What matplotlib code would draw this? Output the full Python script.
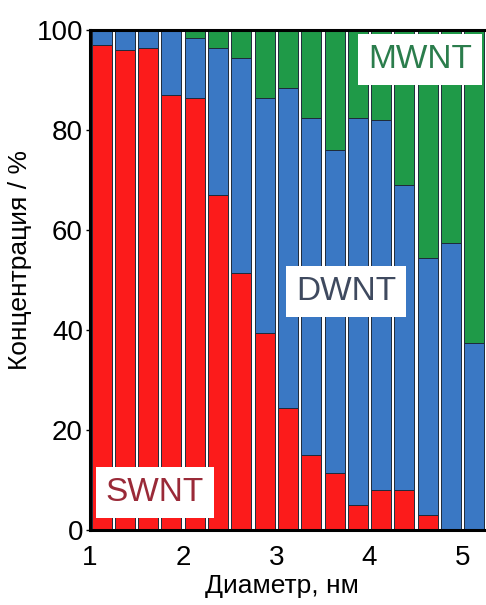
import matplotlib
matplotlib.use('Agg')
import matplotlib.pyplot as plt

plt.rcParams['font.family'] = ['Liberation Sans', 'DejaVu Sans']

# bar centres, nm (bins of 0.25 nm)
diameters = [1.125, 1.375, 1.625, 1.875, 2.125, 2.375, 2.625, 2.875, 3.125,
             3.375, 3.625, 3.875, 4.125, 4.375, 4.625, 4.875, 5.125]
swnt = [97, 96, 96.5, 87, 86.5, 67, 51.5, 39.5, 24.5, 15, 11.5, 5, 8, 8, 3, 0, 0]
dwnt = [3, 4, 3.5, 13, 12, 29.5, 43, 47, 64, 67.5, 64.5, 77.5, 74, 61, 51.5, 57.5, 37.5]
mwnt = [0, 0, 0, 0, 1.5, 3.5, 5.5, 13.5, 11.5, 17.5, 24, 17.5, 18, 31, 45.5, 42.5, 62.5]

red = '#fc1b1b'
blue = '#3a78c4'
green = '#1f9a48'
edge = '#1e2a3a'

fig = plt.figure(figsize=(4.86, 6.05), dpi=100)
ax = fig.add_axes([0.185, 0.124, 0.815, 0.826])

w = 0.215
bottom2 = [s + d for s, d in zip(swnt, dwnt)]
ax.bar(diameters, swnt, width=w, color=red, edgecolor=edge, linewidth=0.7)
ax.bar(diameters, dwnt, width=w, bottom=swnt, color=blue, edgecolor=edge, linewidth=0.7)
ax.bar(diameters, mwnt, width=w, bottom=bottom2, color=green, edgecolor=edge, linewidth=0.7)

ax.set_xlim(1, 5.25)
ax.set_ylim(0, 100)
ax.set_xticks([1, 2, 3, 4, 5])
ax.set_yticks([0, 20, 40, 60, 80, 100])
ax.tick_params(axis='both', labelsize=20, length=3, width=1, direction='out')
ax.tick_params(axis='x', length=0, pad=11)
ax.tick_params(axis='y', pad=2)

for side in ['left', 'bottom', 'top']:
    ax.spines[side].set_linewidth(2.2)
    ax.spines[side].set_color('black')
ax.spines['right'].set_visible(False)

ax.set_xlabel('Диаметр, нм', fontsize=19)
ax.set_ylabel('Концентрация / %', fontsize=19)
ax.xaxis.set_label_coords(0.485, -0.088)
ax.yaxis.set_label_coords(-0.145, 0.54)

box = dict(facecolor='white', edgecolor='none', boxstyle='square,pad=0.3')
ax.text(1.695, 7.4, 'SWNT', fontsize=24, color='#9a2a38', ha='center', va='center', bbox=box)
ax.text(3.75, 47.8, 'DWNT', fontsize=24, color='#3f4a5f', ha='center', va='center', bbox=box)
ax.text(4.54, 94.2, 'MWNT', fontsize=24, color='#2b7d4c', ha='center', va='center', bbox=box)

fig.savefig('out.png', dpi=100)
